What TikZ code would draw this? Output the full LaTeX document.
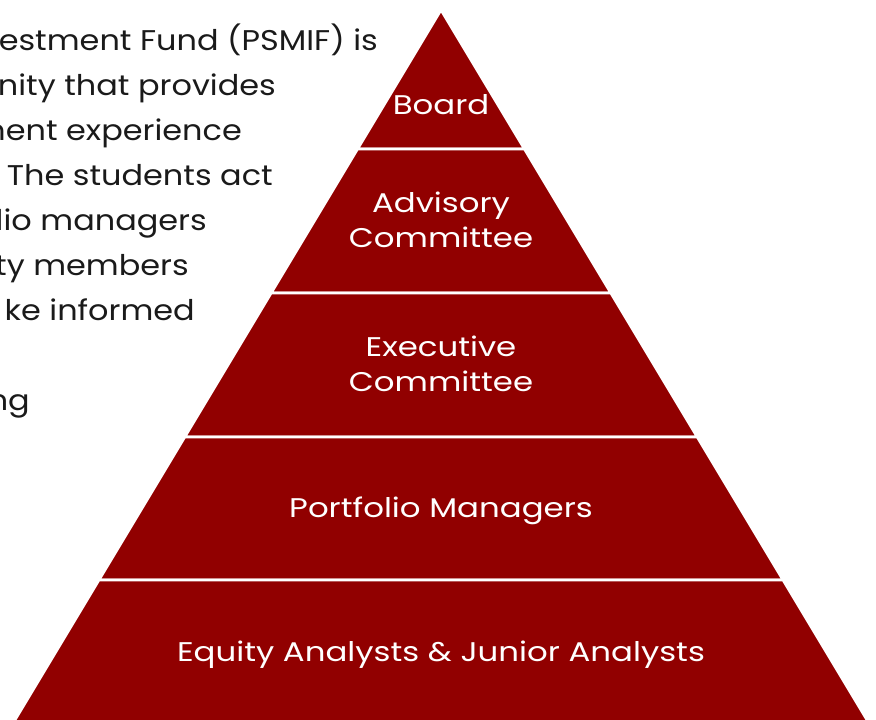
\documentclass[tikz,border=0pt]{standalone}
\usepackage{fontspec}
\setmainfont{Poppins}
\newfontfamily\labelfont{Poppins}[FakeStretch=1.2]
\newfontfamily\bodyfont{Poppins}[FakeStretch=1.12]
\usepackage{tikz}
\usetikzlibrary{positioning}
\definecolor{pyrred}{RGB}{145,0,0}
\definecolor{bodytext}{RGB}{26,26,26}
\tikzstyle{layerfill} = [fill=pyrred, draw=white, line width=2.6pt, line join=miter]
\tikzstyle{layerlabel} = [text=white, align=center, font=\labelfont\fontsize{27}{35}\selectfont, inner sep=0pt]
\tikzstyle{bodyline} = [text=bodytext, anchor=base east, font=\bodyfont\fontsize{28.5}{34}\selectfont, inner sep=0pt]
\newcommand{\pyrlayer}[5]{% #1: name; #2: top y; #3: bottom y; #4: label y; #5: label
  \fill[layerfill] ({441-0.6*(#2-10)},#2) -- ({441+0.6*(#2-10)},#2)
    -- ({441+0.6*(#3-10)},#3) -- ({441-0.6*(#3-10)},#3) -- cycle;
  \node[layerlabel] (#1) at (441,#4) {#5};
}
\begin{document}
\begin{tikzpicture}[x=1pt, y=-1pt]
        %
        \useasboundingbox (0,0) rectangle (876,720);
        \clip (0,0) rectangle (876,720);
        \foreach \n/\x/\y/\t in {1/378/50/estment Fund (PSMIF) is,
                                 2/276/95/nity that provides,
                                 3/242/140/ment experience,
                                 4/273/185/. The students act,
                                 5/207/230/lio managers,
                                 6/189/275/ty members,
                                 7/195/320/ke informed,
                                 8/30/410/ng}
          { \node[bodyline] (txt\n) at (\x,\y) {\t}; }
        \pyrlayer{board}{10}{149}{105}{Board}
        \pyrlayer{advisory}{149}{293}{220}{Advisory\\Committee}
        \pyrlayer{executive}{293}{437}{364}{Executive\\Committee}
        \pyrlayer{pm}{437}{580}{511}{Portfolio Managers}
        \pyrlayer{analysts}{580}{735}{655}{Equity Analysts \& Junior Analysts}
      \end{tikzpicture}
\end{document}
